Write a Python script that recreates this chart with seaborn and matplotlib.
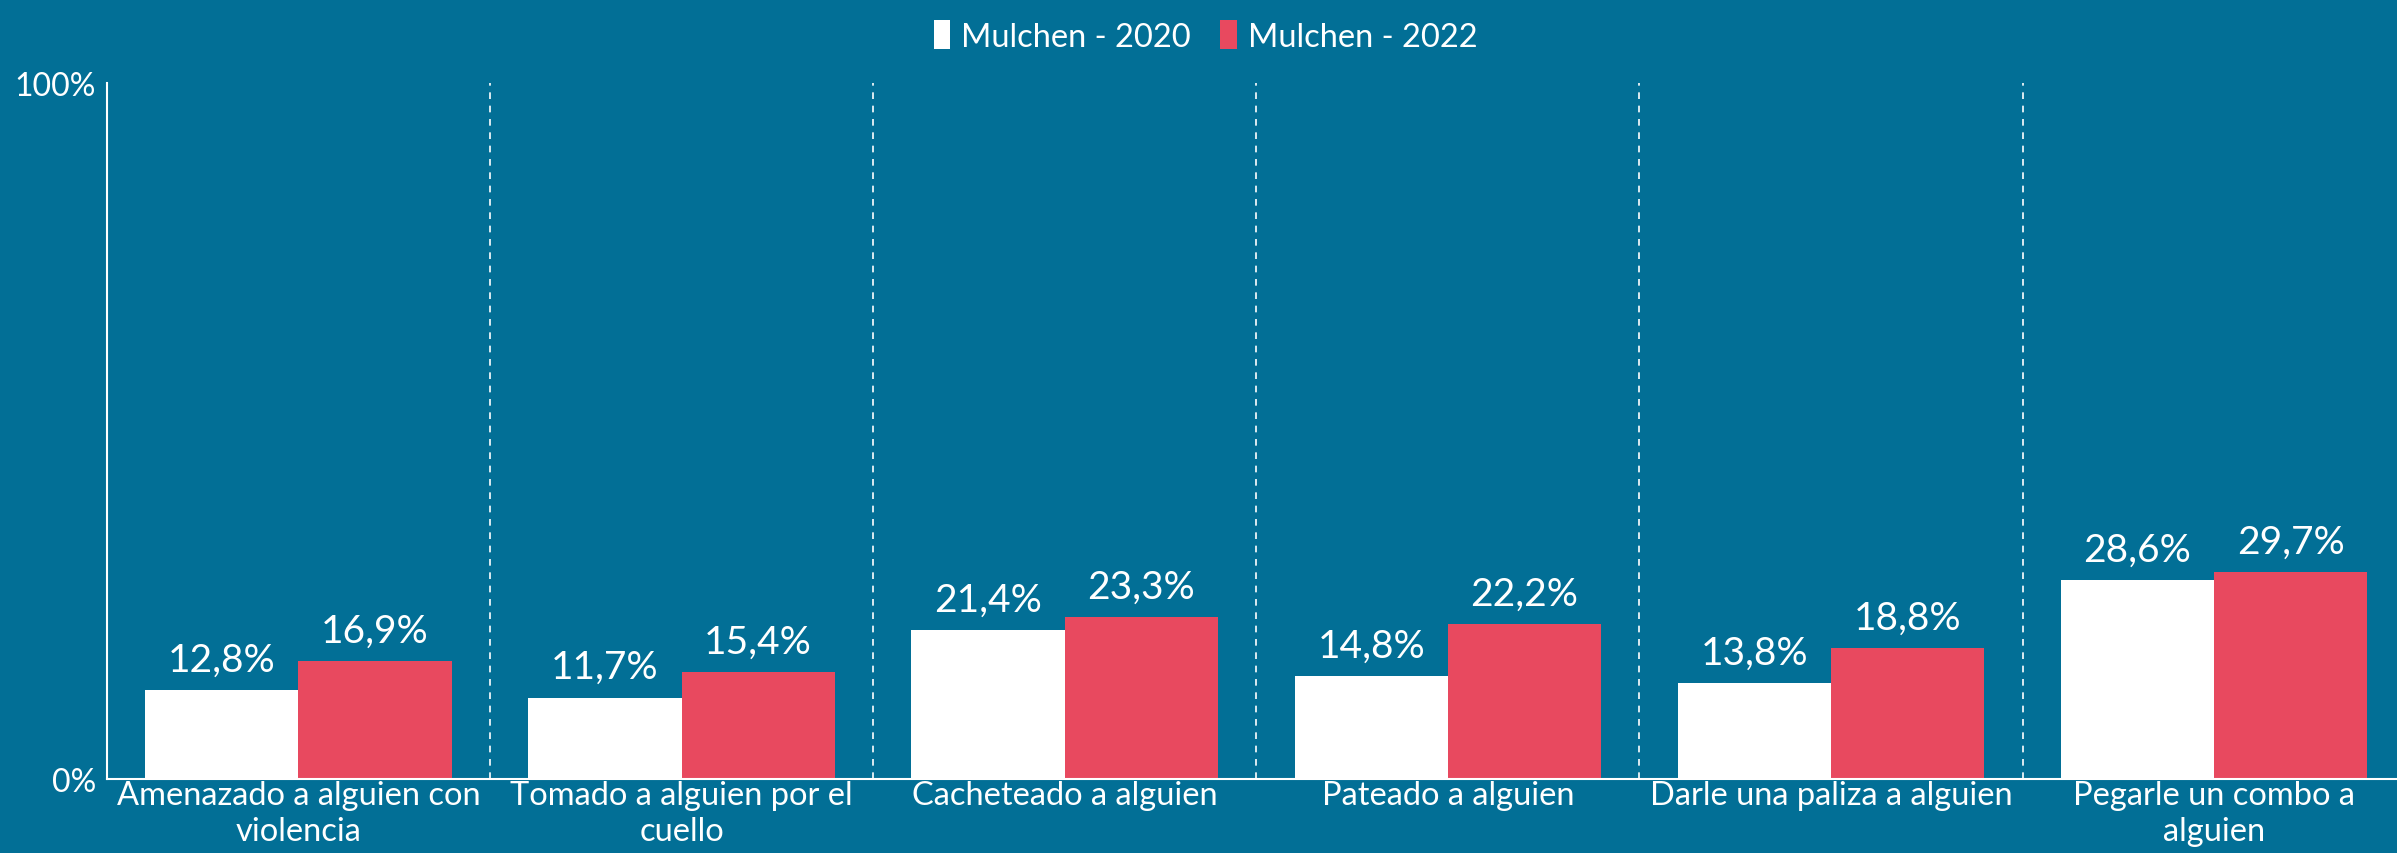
import pandas as pd
import numpy as np
import matplotlib.pyplot as plt
import seaborn as sns
from matplotlib.patches import Patch

# Datos
categorias = [
    'Amenazado a alguien con\nviolencia',
    'Tomado a alguien por el\ncuello',
    'Cacheteado a alguien',
    'Pateado a alguien',
    'Darle una paliza a alguien',
    'Pegarle un combo a\nalguien',
]
series = ['Mulchen - 2020', 'Mulchen - 2022']
valores_2020 = [12.8, 11.7, 21.4, 14.8, 13.8, 28.6]
valores_2022 = [16.9, 15.4, 23.3, 22.2, 18.8, 29.7]

fondo = '#026f96'
colores = ['#ffffff', '#e8495f']

df = pd.DataFrame({
    'categoria': categorias * 2,
    'serie': [series[0]] * len(categorias) + [series[1]] * len(categorias),
    'valor': valores_2020 + valores_2022,
})

sns.set_style('white')
plt.rcParams['font.family'] = ['Lato', 'DejaVu Sans']

fig = plt.figure(figsize=(23.97, 8.54), dpi=100)
fig.patch.set_facecolor(fondo)
ax = fig.add_axes([0.0446, 0.0867, 0.959, 0.815])
ax.set_facecolor(fondo)

sns.barplot(data=df, x='categoria', y='valor', hue='serie',
            palette=colores, width=0.8, linewidth=0, saturation=1,
            ax=ax, legend=False)

ax.set_ylim(0, 100)
ax.set_xlim(-0.5, len(categorias) - 0.5)
ax.set_yticks([0, 100])
ax.set_yticklabels(['0%', '100%'], color='white', fontsize=23)
ax.tick_params(axis='both', length=0)
ax.tick_params(axis='x', pad=1, labelsize=23.5, labelcolor='white')
ax.tick_params(axis='y', pad=8)
for lbl in ax.get_xticklabels():
    lbl.set_linespacing(1.25)
ax.set_xlabel('')
ax.set_ylabel('')

for s in ['top', 'right']:
    ax.spines[s].set_visible(False)
for s in ['left', 'bottom']:
    ax.spines[s].set_color('white')
    ax.spines[s].set_linewidth(1.5)

# separadores punteados
for i in range(len(categorias) - 1):
    ax.axvline(i + 0.5, ymin=0, ymax=1, color='white', linestyle=(0, (4, 4)),
               linewidth=1.2)

# etiquetas de valores
for cont in ax.containers:
    ax.bar_label(cont, labels=[f'{v:.1f}%'.replace('.', ',') for v in cont.datavalues],
                 padding=9, color='white', fontsize=28)

handles = [Patch(facecolor=c, edgecolor='none') for c in colores]
fig.legend(handles, series, loc='upper center', bbox_to_anchor=(0.503, 1.01),
           ncol=2, frameon=False, fontsize=23.5, labelcolor='white',
           handlelength=0.5, handleheight=1.0, handletextpad=0.35,
           columnspacing=0.9)

fig.savefig('out.png', dpi=100, facecolor=fondo)
